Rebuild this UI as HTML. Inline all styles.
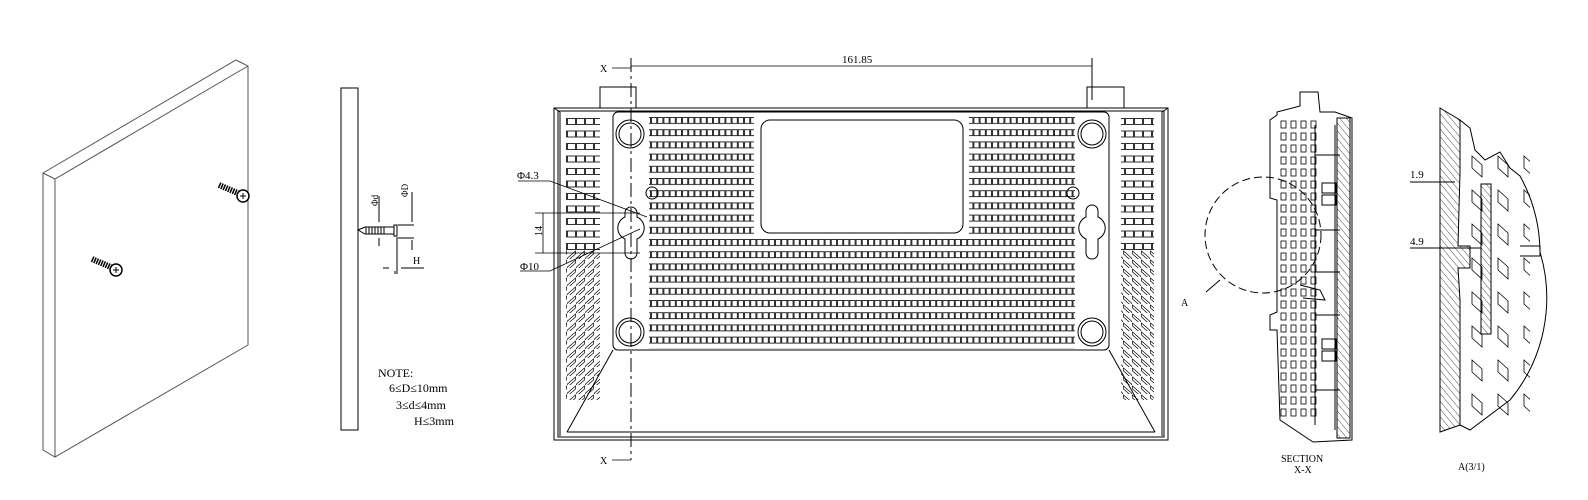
<!DOCTYPE html>
<html><head><meta charset="utf-8"><style>
html,body{margin:0;padding:0;background:#fff;}
svg{display:block;}
text{font-family:"Liberation Serif","Noto Serif CJK SC",serif;}
</style></head><body>
<svg width="1588" height="500" viewBox="0 0 1588 500" xmlns="http://www.w3.org/2000/svg">
<defs>
<pattern id="cells" x="0" y="117" width="6.2" height="12.2" patternUnits="userSpaceOnUse">
<rect x="0.5" y="0.5" width="5.2" height="6" fill="none" stroke="#000" stroke-width="0.8"/>
</pattern>
<pattern id="vent" x="0" y="118" width="9" height="12.5" patternUnits="userSpaceOnUse">
<rect x="0.5" y="0.5" width="8" height="6" fill="none" stroke="#000" stroke-width="0.8"/>
</pattern>
<pattern id="vent2" x="0" y="250" width="9" height="9" patternUnits="userSpaceOnUse">
<path d="M0.5 8 L8.5 1 L8.5 4 L0.5 11Z" fill="none" stroke="#000" stroke-width="0.7"/>
</pattern>
<pattern id="hatch" width="5" height="5" patternUnits="userSpaceOnUse" patternTransform="rotate(-40)">
<line x1="0" y1="0" x2="0" y2="5" stroke="#000" stroke-width="0.7"/>
</pattern>
<pattern id="sq" x="1280" y="120" width="10" height="12" patternUnits="userSpaceOnUse">
<rect x="1" y="1" width="5" height="7" fill="none" stroke="#000" stroke-width="0.8"/>
</pattern>
<pattern id="dia" x="1470" y="150" width="26" height="34" patternUnits="userSpaceOnUse">
<path d="M2 6 L12 15 L12 27 L2 18Z" fill="none" stroke="#000" stroke-width="0.8"/>
</pattern>
</defs>
<g fill="none" stroke="#000" stroke-width="1">
<path d="M43 173 L236 60 L248 66 L248 345 L55 457 L43 450 Z" stroke="#555"/>
<path d="M43 173 L55 179 L248 66 M55 179 L55 457" stroke="#555"/>
</g>
<g stroke="#000">
<path d="M219 185 L240 194" stroke-width="6" stroke-dasharray="1.5 1"/>
<circle cx="243" cy="196" r="6" fill="#fff" stroke-width="1.5"/>
<path d="M240 196h6M243 193v6" stroke-width="1"/>
<path d="M92 259 L113 268" stroke-width="6" stroke-dasharray="1.5 1"/>
<circle cx="116" cy="270" r="6" fill="#fff" stroke-width="1.5"/>
<path d="M113 270h6M116 267v6" stroke-width="1"/>
</g>
<g fill="none" stroke="#000" stroke-width="1">
<rect x="341" y="88" width="17" height="342"/>
<path d="M358 230 L365 227 L394 227 L394 234 L365 234 Z"/>
<path d="M366 227 L366 234 M369 227 L369 234 M372 227 L372 234 M375 227 L375 234 M378 227 L378 234 M381 227 L381 234 M384 227 L384 234"/>
<rect x="394" y="225" width="3" height="11"/>
<path d="M379 196 V222 M379 238 V246 M395 271 V274 M397 237 V274 M398 225 H414 M398 238 H414 M412 192 V222 M412 240 V250 M383 268 H389 M401 268 H424"/>
</g>
<text x="372" y="212" font-size="9" transform="rotate(-90 372 206)">Φd</text>
<text x="405" y="200" font-size="9" transform="rotate(-90 405 197)">ΦD</text>
<text x="413" y="264" font-size="10">H</text>
<text x="378" y="377" font-size="12">NOTE:</text>
<text x="389" y="392" font-size="12">6≤D≤10mm</text>
<text x="396" y="409" font-size="12">3≤d≤4mm</text>
<text x="414" y="425" font-size="12">H≤3mm</text>

<!-- main view -->
<g fill="none" stroke="#000" stroke-width="1">
<rect x="554" y="108" width="614" height="332"/>
<rect x="558" y="111" width="606" height="326"/>
<path d="M554 108 L560 112 M1168 108 L1162 112"/>
<rect x="600" y="87" width="36" height="21"/>
<rect x="1087" y="87" width="37" height="21"/>
<rect x="613" y="112" width="496" height="238" rx="5"/>
<path d="M613 350 L567 432 M1109 350 L1155 432 M567 432 H1155"/>
<path d="M560 112 L560 436 M1162 112 L1162 436"/>
<rect x="761" y="120" width="202" height="113" rx="9"/>
</g>
<rect x="649" y="117" width="105" height="122" fill="url(#cells)"/>
<rect x="969" y="117" width="106" height="122" fill="url(#cells)"/>
<rect x="649" y="239" width="426" height="110" fill="url(#cells)"/>
<rect x="566" y="118" width="34" height="135" fill="url(#vent)"/>
<rect x="566" y="250" width="34" height="150" fill="url(#vent2)"/>
<rect x="1121" y="118" width="33" height="135" fill="url(#vent)"/>
<rect x="1121" y="250" width="33" height="150" fill="url(#vent2)" transform="translate(2275 0) scale(-1 1)"/>
<g fill="none" stroke="#000" stroke-width="1">
<circle cx="630" cy="134" r="14"/><circle cx="630" cy="134" r="11"/>
<circle cx="1092" cy="134" r="14"/><circle cx="1092" cy="134" r="11"/>
<circle cx="630" cy="332" r="14"/><circle cx="630" cy="332" r="11"/>
<circle cx="1092" cy="332" r="14"/><circle cx="1092" cy="332" r="11"/>
<circle cx="652" cy="193" r="6"/><circle cx="1073" cy="193" r="6"/>
<path d="M625 213 a6 6 0 0 1 12 0 v4 a12 12 0 0 1 0 22 v14 a6 6 0 0 1 -12 0 v-14 a12 12 0 0 1 0 -22 Z"/>
<path d="M1086 211 a6 6 0 0 1 12 0 v6 a12 12 0 0 1 0 22 v14 a6 6 0 0 1 -12 0 v-14 a12 12 0 0 1 0 -22 Z"/>
<path d="M631 58 V460" stroke-dasharray="14 4 3 4"/>
<path d="M1092 58 V100"/>
<path d="M612 68 H631 M631 66 H1092" stroke-width="0.8"/>
<path d="M612 460 H631" stroke-width="0.8"/>
<path d="M535 213 H640 M535 253 H640 M543 213 V253" stroke-width="0.8"/>
<path d="M518 181 H550 L647 217 M520 271 H550 L640 229" stroke-width="0.8"/>
</g>
<text x="600" y="72" font-size="10">X</text>
<text x="600" y="464" font-size="10">X</text>
<text x="842" y="63" font-size="11">161.85</text>
<text x="517" y="179" font-size="11">Φ4.3</text>
<text x="520" y="270" font-size="11">Φ10</text>
<text x="538" y="240" font-size="10" transform="rotate(-90 538 236)">14</text>

<!-- section -->
<g fill="none" stroke="#000" stroke-width="1">
<path d="M1300 92 H1318 L1320 112 L1335 112 L1352 118 V440 L1313 442 L1280 420 L1277 330 L1270 330 L1270 315 L1277 312 L1277 200 L1270 198 L1270 120 L1277 115 L1277 112 L1300 106 Z"/>
<rect x="1280" y="120" width="37" height="300" fill="url(#sq)" stroke="none"/>
<rect x="1337" y="118" width="13" height="320" fill="url(#hatch)"/>
<path d="M1315 125 V425 M1335 125 V430 M1315 155 H1340 M1315 230 H1340 M1315 272 H1340 M1315 315 H1340 M1315 390 H1340"/>
<rect x="1322" y="183" width="14" height="10"/><rect x="1322" y="195" width="14" height="10"/>
<rect x="1322" y="339" width="14" height="10"/><rect x="1322" y="351" width="14" height="10"/>
<path d="M1300 285 L1320 290 L1325 300 L1303 298"/>
<circle cx="1263" cy="235" r="58" stroke-dasharray="8 4"/>
<path d="M1220 280 L1206 292"/>
</g>
<text x="1181" y="306" font-size="10">A</text>
<text x="1281" y="462" font-size="10">SECTION</text>
<text x="1294" y="473" font-size="10">X-X</text>

<!-- detail A -->
<g fill="none" stroke="#000" stroke-width="1">
<path d="M1440 108 L1460 120 V172 L1458 246 H1470 V268 H1458 L1460 300 V425 L1440 432 Z" fill="url(#hatch)"/>
<path d="M1460 120 L1470 128 L1475 150 L1485 160 L1500 152 L1510 168 L1520 176 A160 160 0 0 1 1540 252 A160 160 0 0 1 1510 400 L1470 430 L1460 425"/>
<rect x="1470" y="150" width="60" height="270" fill="url(#dia)" stroke="none"/>
<rect x="1481" y="184" width="10" height="150" fill="url(#hatch)"/>
<path d="M1410 182 H1455 M1410 248 H1481 M1520 246 H1540 V256 H1520"/>
</g>
<text x="1410" y="178" font-size="11">1.9</text>
<text x="1410" y="245" font-size="11">4.9</text>
<text x="1458" y="470" font-size="10">A(3/1)</text>
</svg>
</body></html>
